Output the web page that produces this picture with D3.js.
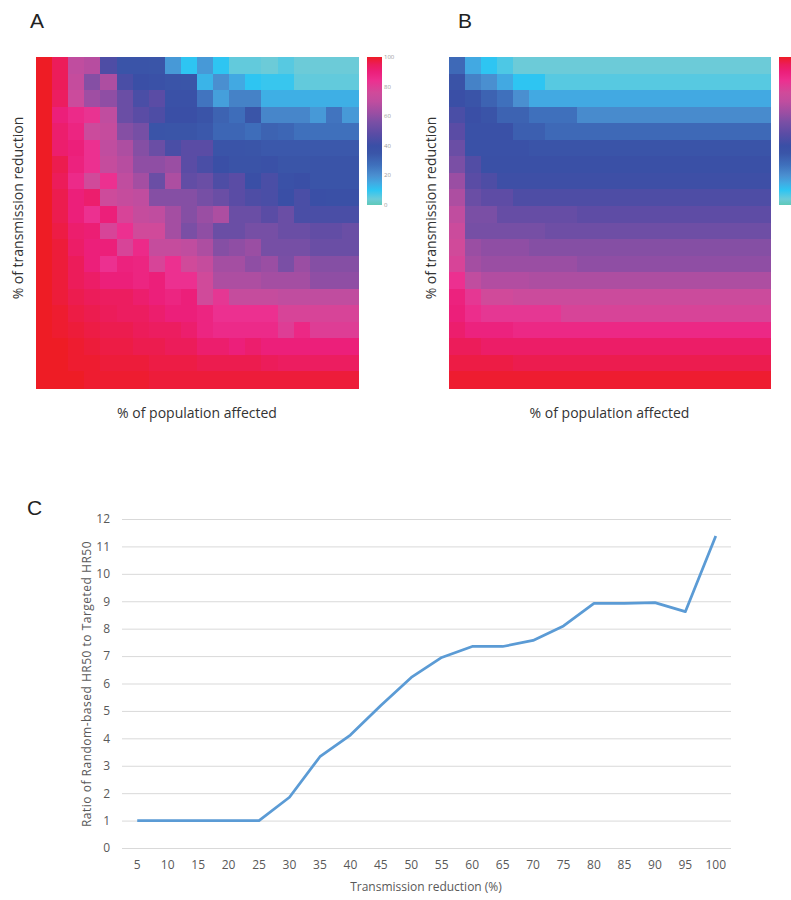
<!DOCTYPE html>
<html lang="en">
<head>
    <title>HR50 heatmaps and ratio</title>
    <meta charset="utf-8"/>
    <script src="https://d3js.org/d3.v7.min.js"></script>
    <style>
        body { margin: 0; background: #fff; }
        svg { font-family: "Open Sans", sans-serif; }
    </style>
</head>
<body>
<svg width="791" height="900"></svg>

<script type="text/javascript">

    // categorias de los heatmaps (columnas = % poblacion, filas = % reduccion)
    const popAffected = [5, 10, 15, 20, 25, 30, 35, 40, 45, 50, 55, 60, 65, 70, 75, 80, 85, 90, 95, 100];
    const transReduction = [5, 10, 15, 20, 25, 30, 35, 40, 45, 50, 55, 60, 65, 70, 75, 80, 85, 90, 95, 100];

    // panel A, filas de arriba hacia abajo
    const heatA = [
        [100, 95, 70, 68, 45, 36, 36, 35, 18, 10, 18, 10, 5, 5, 4, 6, 4, 4, 4, 4],
        [100, 95, 72, 58, 66, 44, 40, 38, 36, 35, 13, 20, 15, 10, 9, 9, 5, 5, 5, 5],
        [100, 94, 74, 63, 60, 52, 44, 48, 38, 38, 26, 17, 23, 23, 14, 14, 14, 14, 14, 14],
        [100, 90, 86, 83, 70, 52, 48, 45, 40, 40, 36, 31, 28, 35, 22, 22, 22, 18, 26, 18],
        [100, 92, 88, 74, 72, 58, 55, 36, 35, 35, 34, 30, 30, 28, 31, 30, 27, 27, 27, 27],
        [100, 92, 90, 84, 70, 66, 58, 52, 44, 48, 48, 36, 36, 35, 34, 34, 34, 34, 34, 34],
        [100, 96, 89, 84, 72, 68, 60, 60, 62, 48, 44, 40, 37, 37, 38, 35, 35, 36, 36, 36],
        [100, 95, 86, 76, 84, 70, 64, 52, 66, 50, 52, 45, 48, 40, 44, 38, 40, 36, 36, 36],
        [100, 96, 90, 92, 75, 72, 70, 58, 58, 58, 55, 52, 48, 45, 44, 40, 44, 40, 39, 39],
        [100, 96, 90, 84, 90, 78, 72, 70, 64, 58, 62, 66, 52, 52, 48, 52, 44, 44, 44, 44],
        [100, 97, 92, 91, 78, 84, 76, 76, 64, 56, 60, 52, 52, 55, 55, 52, 52, 50, 50, 52],
        [100, 98, 93, 90, 90, 78, 86, 72, 72, 70, 66, 58, 60, 62, 55, 55, 55, 52, 52, 52],
        [100, 98, 95, 90, 84, 89, 88, 78, 84, 76, 72, 64, 64, 60, 62, 56, 62, 58, 58, 58],
        [100, 98, 95, 93, 90, 90, 88, 90, 84, 84, 76, 66, 66, 66, 64, 64, 64, 60, 60, 60],
        [100, 98, 96, 95, 94, 94, 92, 90, 88, 90, 76, 82, 72, 72, 72, 70, 70, 70, 70, 70],
        [100, 99, 97, 96, 95, 94, 94, 92, 90, 90, 88, 84, 84, 84, 84, 78, 78, 78, 78, 78],
        [100, 99, 98, 97, 96, 96, 95, 94, 94, 92, 88, 86, 86, 86, 86, 80, 87, 80, 80, 80],
        [100, 100, 99, 98, 97, 97, 96, 96, 95, 95, 92, 92, 90, 92, 90, 90, 90, 90, 90, 90],
        [100, 100, 99, 99, 98, 98, 98, 97, 97, 97, 96, 96, 96, 96, 95, 94, 94, 94, 94, 94],
        [100, 100, 100, 99, 99, 99, 99, 98, 98, 98, 98, 98, 98, 98, 98, 98, 98, 98, 98, 98]
    ];

    // panel B, filas de arriba hacia abajo
    const heatB = [
        [29, 15, 10, 7, 4, 4, 4, 4, 4, 4, 4, 4, 4, 4, 4, 4, 4, 4, 4, 4],
        [37, 23, 20, 15, 10, 10, 6, 6, 6, 6, 6, 6, 6, 6, 6, 6, 6, 6, 6, 6],
        [40, 36, 31, 27, 20, 15, 15, 15, 15, 15, 15, 15, 15, 15, 15, 15, 15, 15, 15, 15],
        [44, 40, 36, 31, 31, 27, 27, 27, 21, 21, 21, 21, 21, 21, 21, 21, 21, 21, 21, 21],
        [48, 38, 38, 38, 32, 32, 29, 29, 29, 29, 29, 29, 29, 29, 29, 29, 29, 29, 29, 29],
        [52, 38, 38, 38, 38, 36, 36, 36, 36, 36, 36, 36, 36, 36, 36, 36, 36, 36, 36, 36],
        [56, 46, 39, 39, 39, 39, 39, 39, 39, 39, 39, 39, 39, 39, 39, 39, 39, 39, 39, 39],
        [62, 48, 45, 41, 41, 41, 41, 41, 41, 41, 41, 41, 41, 41, 41, 41, 41, 41, 41, 41],
        [66, 52, 49, 49, 45, 45, 45, 45, 45, 45, 45, 45, 45, 45, 45, 45, 45, 45, 45, 45],
        [70, 56, 56, 51, 51, 51, 51, 51, 49, 49, 49, 49, 49, 49, 49, 49, 49, 49, 49, 49],
        [74, 55, 55, 55, 55, 55, 53, 53, 53, 53, 53, 53, 53, 53, 53, 53, 53, 53, 53, 53],
        [76, 62, 60, 60, 60, 58, 58, 58, 58, 58, 58, 58, 58, 58, 58, 58, 58, 58, 58, 58],
        [78, 64, 62, 62, 62, 62, 62, 62, 60, 60, 60, 60, 60, 60, 60, 60, 60, 60, 60, 60],
        [84, 70, 67, 67, 67, 66, 66, 66, 66, 66, 66, 66, 66, 66, 66, 66, 66, 66, 66, 66],
        [89, 82, 76, 76, 74, 74, 74, 74, 74, 74, 74, 74, 74, 74, 74, 74, 74, 74, 74, 74],
        [90, 85, 82, 82, 82, 82, 82, 78, 78, 78, 78, 78, 78, 78, 78, 78, 78, 78, 78, 78],
        [92, 89, 89, 89, 87, 87, 87, 87, 87, 87, 87, 87, 87, 87, 87, 87, 87, 87, 87, 87],
        [95, 95, 93, 93, 93, 93, 93, 93, 93, 93, 93, 93, 93, 93, 93, 93, 93, 93, 93, 93],
        [97, 97, 97, 97, 96, 96, 96, 96, 96, 96, 96, 96, 96, 96, 96, 96, 96, 96, 96, 96],
        [99, 99, 99, 99, 99, 99, 99, 99, 99, 99, 99, 99, 99, 99, 99, 99, 99, 99, 99, 99]
    ];

    const colorStops = [0, 4, 10, 15, 20, 27, 35, 40, 48, 56, 62, 70, 76, 84, 90, 95, 100];
    const colorHex = ["#5ec9b8", "#6ccbd8", "#2ec5f2", "#42a9e2", "#4a8fd0", "#3f70bc", "#3a55a8", "#3a4fa6",
        "#5a4ca5", "#7a4fa5", "#9a4ea3", "#c04d9f", "#d04a9a", "#ec3090", "#ec1f7a", "#ec1c5a", "#ee1c25"];
    const barTicks = [0, 20, 40, 60, 80, 100];

    // panel C
    const lineX = ["5", "10", "15", "20", "25", "30", "35", "40", "45", "50",
        "55", "60", "65", "70", "75", "80", "85", "90", "95", "100"];
    const ratio = [1.0, 1.0, 1.0, 1.0, 1.0, 1.85, 3.33, 4.12, 5.2, 6.22,
        6.95, 7.35, 7.35, 7.57, 8.1, 8.92, 8.92, 8.95, 8.62, 11.38];
    const yTicks = [0, 1, 2, 3, 4, 5, 6, 7, 8, 9, 10, 11, 12];

    const svg = d3.select("svg");
    const color = d3.scaleLinear().domain(colorStops).range(colorHex);

    /*
    * dibuja un heatmap con su barra de colores
    */
    function heatmap(data, id, x0, y0, w, h, barX, showBarLabels) {
        let x = d3.scaleBand().domain(popAffected).range([x0, x0 + w]);
        let y = d3.scaleBand().domain(transReduction).range([y0, y0 + h]);

        let cells = [];
        data.forEach((row, i) => row.forEach((v, j) => {
            cells.push({col: popAffected[j], row: transReduction[i], v: v});
        }));

        svg.append("g").attr("id", "heat" + id)
            .selectAll("rect")
            .data(cells).enter()
            .append("rect")
            .attr("x", d => x(d.col))
            .attr("y", d => y(d.row))
            .attr("width", x.bandwidth() + 0.5)
            .attr("height", y.bandwidth() + 0.5)
            .attr("fill", d => color(d.v))
            .attr("shape-rendering", "crispEdges");

        // barra de colores
        let grad = svg.append("defs").append("linearGradient")
            .attr("id", "grad" + id)
            .attr("x1", "0").attr("y1", "1").attr("x2", "0").attr("y2", "0");
        grad.selectAll("stop")
            .data(colorStops).enter()
            .append("stop")
            .attr("offset", d => d / 100)
            .attr("stop-color", d => color(d));

        let barY = d3.scaleLinear().domain([0, 100]).range([205, 57]);
        svg.append("rect")
            .attr("x", barX).attr("y", barY(100))
            .attr("width", 15).attr("height", barY(0) - barY(100))
            .attr("fill", "url(#grad" + id + ")");

        if (showBarLabels) {
            svg.append("g")
                .selectAll("text")
                .data(barTicks).enter()
                .append("text")
                .attr("x", barX + 17)
                .attr("y", d => barY(d) + 2)
                .style("font-size", "6px")
                .style("fill", "#999")
                .text(d => d);
        }

        svg.append("text")
            .attr("transform", "translate(" + (x0 - 13) + ",208) rotate(-90)")
            .attr("text-anchor", "middle")
            .style("font-size", "14px")
            .style("fill", "#333")
            .text("% of transmission reduction");

        svg.append("text")
            .attr("x", x0 + w / 2)
            .attr("y", y0 + h + 30)
            .attr("text-anchor", "middle")
            .style("font-size", "14px")
            .style("fill", "#333")
            .text("% of population affected");
    }

    heatmap(heatA, "A", 36, 57, 322, 331, 367, true);
    heatmap(heatB, "B", 449, 57, 321, 331, 779, false);

    // letras de panel
    svg.selectAll("text.panel")
        .data([["A", 30, 28], ["B", 458, 28], ["C", 27, 515]]).enter()
        .append("text")
        .attr("class", "panel")
        .attr("x", d => d[1]).attr("y", d => d[2])
        .style("font-family", "Liberation Sans, Arial, sans-serif")
        .style("font-size", "21px")
        .style("fill", "#222")
        .text(d => d[0]);

    // grafico de linea
    let xLine = d3.scaleBand().domain(lineX).range([122, 731]);
    let yLine = d3.scaleLinear().domain([0, 12]).range([848, 519]);

    let yAxis = d3.axisLeft(yLine)
        .tickValues(yTicks)
        .tickSize(-(731 - 122))
        .tickPadding(12);

    let gy = svg.append("g")
        .attr("transform", "translate(122,0)")
        .call(yAxis);
    gy.select(".domain").remove();
    gy.selectAll(".tick line").attr("stroke", "#d9d9d9");
    gy.selectAll(".tick text")
        .style("font-size", "12px").style("fill", "#595959")
        .style("font-family", "Open Sans, sans-serif");

    let xAxis = d3.axisBottom(xLine).tickSize(0).tickPadding(12);
    let gx = svg.append("g")
        .attr("transform", "translate(0,848)")
        .call(xAxis);
    gx.select(".domain").remove();
    gx.selectAll(".tick text")
        .style("font-size", "12px").style("fill", "#595959")
        .style("font-family", "Open Sans, sans-serif");

    let ratioLine = d3.line()
        .x((d, i) => xLine(lineX[i]) + xLine.bandwidth() / 2)
        .y(d => yLine(d));

    svg.append("path")
        .attr("d", ratioLine(ratio))
        .attr("fill", "none")
        .attr("stroke", "#5b9bd5")
        .attr("stroke-width", 2.75)
        .attr("stroke-linejoin", "round");

    svg.append("text")
        .attr("transform", "translate(91,684) rotate(-90)")
        .attr("text-anchor", "middle")
        .style("font-size", "12px")
        .style("letter-spacing", "0.5px")
        .style("fill", "#595959")
        .text("Ratio of Random-based HR50 to Targeted HR50");

    svg.append("text")
        .attr("x", 426)
        .attr("y", 891)
        .attr("text-anchor", "middle")
        .style("font-size", "12px")
        .style("fill", "#595959")
        .text("Transmission reduction (%)");

</script>
</body>
</html>
